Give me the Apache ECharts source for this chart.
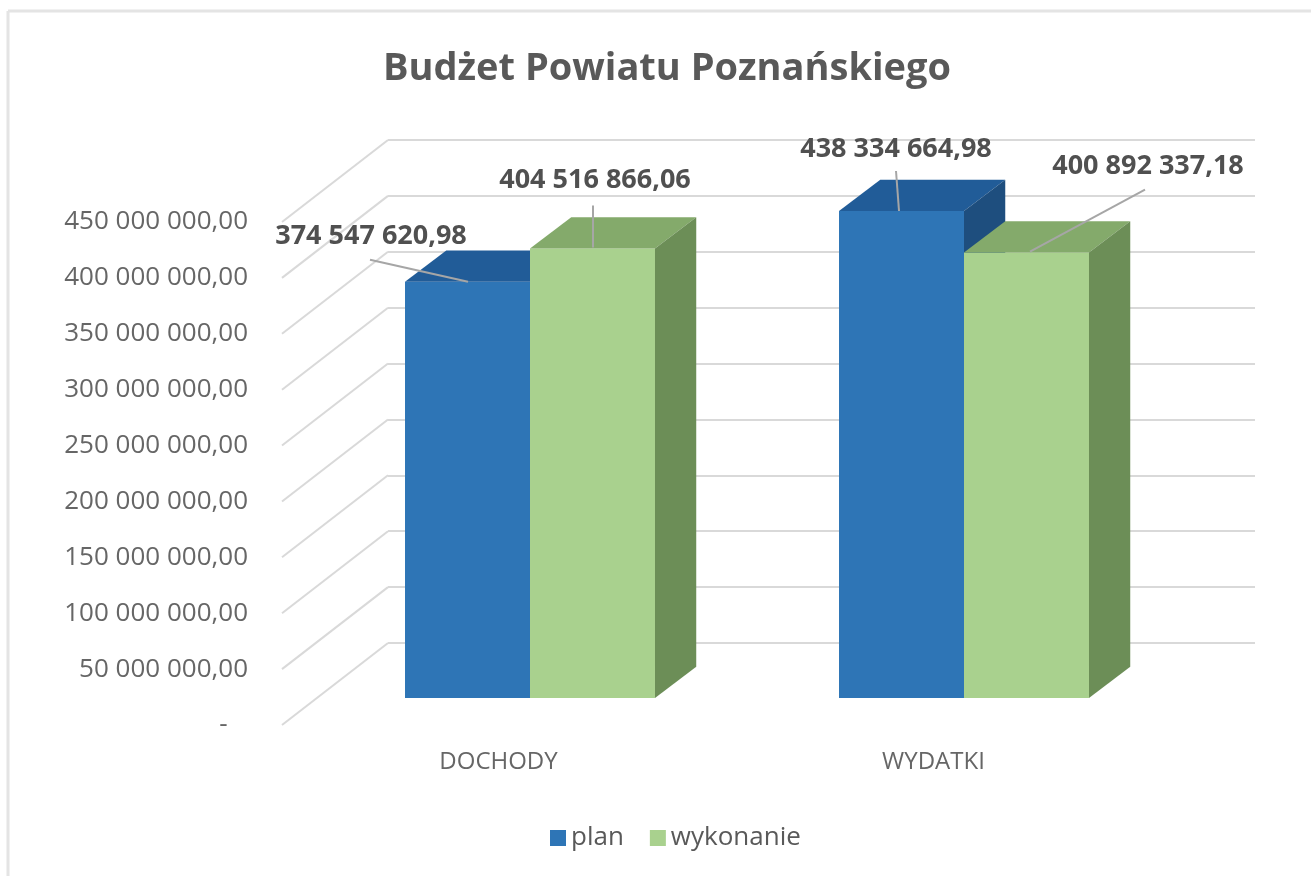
<!DOCTYPE html>
<html>
<head>
<meta charset="utf-8">
<script src="https://cdn.jsdelivr.net/npm/echarts@6/dist/echarts.min.js"></script>
<style>html,body{margin:0;padding:0;background:#fff;}#c{width:1311px;height:876px;}</style>
</head>
<body>
<div id="c"></div>
<script>
// ---- data ----
const categories = ['DOCHODY', 'WYDATKI'];
const planValues = [374547620.98, 438334664.98];
const wykonanieValues = [404516866.06, 400892337.18];
const seriesNames = ['plan', 'wykonanie'];
const yMin = 0, yMax = 450000000, yInterval = 50000000;
const tickValues = [0, 50000000, 100000000, 150000000, 200000000, 250000000, 300000000, 350000000, 400000000, 450000000];

// ---- layout / style ----
const FONT = "'Open Sans', 'Noto Sans', sans-serif";
const FRONT = { left: 282, top: 222, width: 106, height: 503 };   // axis labels + floor diagonals
const BACK = { left: 388, top: 140, width: 867, height: 503 };    // back wall
const BARS = { left: 313, top: 198, width: 868, height: 500 };     // bar front faces
const CATS = { left: 281, top: 700, width: 870, height: 42 };      // category labels
const GRID_COLOR = '#d9d9d9';
const COLORS = {
  plan: { front: '#2E75B6', top: '#215C98', side: '#1E4E7E' },
  wykonanie: { front: '#A9D18E', top: '#84AA6B', side: '#6C8E57' }
};
// label placement relative to bar front-left-top corner: text center, leader start, leader end
const LABEL_LAYOUT = {
  plan: [ { t: [-34, -46], a: [-35, -22], b: [63, 0] }, { t: [57, -62], a: [57, -40], b: [60, 0] } ],
  wykonanie: [ { t: [65, -68], a: [63, -43], b: [63, -1] }, { t: [184, -86], a: [181, -63], b: [66, -1] } ]
};

function fmt(v) {
  const parts = v.toFixed(2).split('.');
  return parts[0].replace(/\B(?=(\d{3})+(?!\d))/g, ' ') + ',' + parts[1];
}

const chart = echarts.init(document.getElementById('c'));

function barRenderer(key, sideIndex) {
  const col = COLORS[key];
  return function (params, api) {
    const ci = api.value(0), v = api.value(1);
    const base = api.coord([ci, 0]);
    const top = api.coord([ci, v]);
    const band = api.size([1, 0])[0];
    const w = band * 0.288;
    const left = sideIndex === 0 ? base[0] - w : base[0];
    const dx = w * 0.33, dy = -w * 0.25;
    const ty = top[1], by = base[1];
    const lay = LABEL_LAYOUT[key][params.dataIndex];
    return {
      type: 'group',
      children: [
        { type: 'rect', shape: { x: left, y: ty, width: w, height: by - ty }, style: { fill: col.front } },
        { type: 'polygon', shape: { points: [[left, ty], [left + w, ty], [left + w + dx, ty + dy], [left + dx, ty + dy]] }, style: { fill: col.top } },
        { type: 'polygon', shape: { points: [[left + w, ty], [left + w + dx, ty + dy], [left + w + dx, by + dy], [left + w, by]] }, style: { fill: col.side } },
        { type: 'line', shape: { x1: left + lay.a[0], y1: ty + lay.a[1], x2: left + lay.b[0], y2: ty + lay.b[1] }, style: { stroke: '#a6a6a6', lineWidth: 2 }, z2: 10 },
        { type: 'text', x: left + lay.t[0], y: ty + lay.t[1], style: { text: fmt(v), fill: '#505050', font: 'bold 27px ' + FONT, align: 'center', verticalAlign: 'middle' }, z2: 11 }
      ]
    };
  };
}

const option = {
  backgroundColor: '#ffffff',
  animation: false,
  textStyle: { fontFamily: FONT },
  title: {
    text: 'Budżet Powiatu Poznańskiego',
    left: 662, top: 45, textAlign: 'center',
    textStyle: { fontFamily: FONT, fontSize: 38, fontWeight: 'bold', color: '#595959' }
  },
  legend: {
    data: seriesNames,
    left: 545, top: 820,
    icon: 'rect', itemWidth: 16, itemHeight: 16, itemGap: 26,
    textStyle: { fontFamily: FONT, fontSize: 26, color: '#595959' },
    selectedMode: false
  },
  graphic: [
    { type: 'line', shape: { x1: 8, y1: 11, x2: 1311, y2: 11 }, style: { stroke: '#e4e4e4', lineWidth: 3 } },
    { type: 'line', shape: { x1: 8, y1: 11, x2: 8, y2: 876 }, style: { stroke: '#e4e4e4', lineWidth: 3 } }
  ],
  grid: [
    Object.assign({ containLabel: false }, FRONT),
    Object.assign({ containLabel: false }, BACK),
    Object.assign({ containLabel: false }, BARS),
    Object.assign({ containLabel: false }, CATS)
  ],
  xAxis: [
    { gridIndex: 0, type: 'value', min: 0, max: 1, show: false },
    { gridIndex: 1, type: 'value', min: 0, max: 1, show: false },
    { gridIndex: 2, type: 'category', data: categories, show: false },
    { gridIndex: 3, type: 'category', data: categories, axisLine: { show: false }, axisTick: { show: false },
      axisLabel: { fontFamily: FONT, fontSize: 24, color: '#666666', margin: 8 } }
  ],
  yAxis: [
    { gridIndex: 0, type: 'value', min: yMin, max: yMax, interval: yInterval,
      axisLine: { show: false }, axisTick: { show: false }, splitLine: { show: false },
      axisLabel: { margin: 34, fontFamily: FONT, fontSize: 26, color: '#666666',
        formatter: function (v) { return v === 0 ? '-   ' : fmt(v); } } },
    { gridIndex: 1, type: 'value', min: yMin, max: yMax, interval: yInterval,
      axisLine: { show: false }, axisTick: { show: false }, axisLabel: { show: false },
      splitLine: { show: true, lineStyle: { color: GRID_COLOR, width: 2 } } },
    { gridIndex: 2, type: 'value', min: yMin, max: yMax, interval: yInterval, show: false },
    { gridIndex: 3, type: 'value', min: 0, max: 1, show: false }
  ],
  series: [
    {
      type: 'custom', name: 'diagonals', xAxisIndex: 0, yAxisIndex: 0, silent: true, z: 1,
      data: tickValues.map(function (v) { return [0, v]; }),
      renderItem: function (params, api) {
        const p = api.coord([0, api.value(1)]);
        const q = api.coord([1, api.value(1)]);
        const shift = FRONT.top - BACK.top;
        return { type: 'line', shape: { x1: p[0], y1: p[1], x2: q[0], y2: q[1] - shift }, style: { stroke: GRID_COLOR, lineWidth: 2 } };
      }
    },
    {
      type: 'custom', name: 'plan', xAxisIndex: 2, yAxisIndex: 2, z: 3,
      itemStyle: { color: COLORS.plan.front },
      data: planValues.map(function (v, i) { return [i, v]; }),
      renderItem: barRenderer('plan', 0)
    },
    {
      type: 'custom', name: 'wykonanie', xAxisIndex: 2, yAxisIndex: 2, z: 4,
      itemStyle: { color: COLORS.wykonanie.front },
      data: wykonanieValues.map(function (v, i) { return [i, v]; }),
      renderItem: barRenderer('wykonanie', 1)
    }
  ]
};
chart.setOption(option);
</script>
</body>
</html>
